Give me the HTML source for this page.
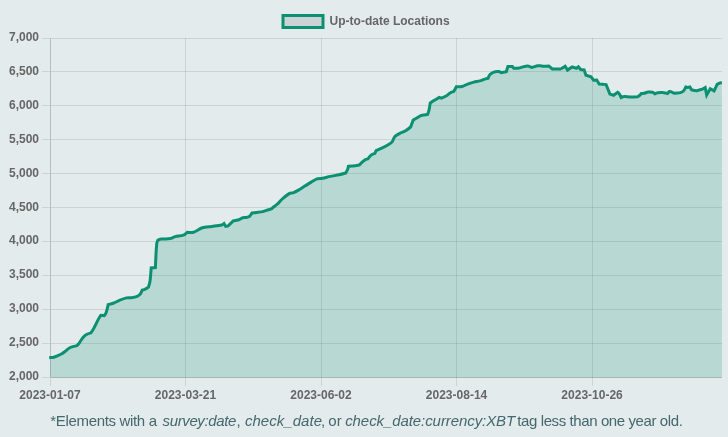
<!DOCTYPE html>
<html lang="en">
<head>
<meta charset="utf-8">
<title>Up-to-date Locations</title>
<style>
html,body{margin:0;padding:0;}
body{width:728px;height:437px;overflow:hidden;background:#e4ebec;position:relative;font-family:"Liberation Sans",Arial,Helvetica,sans-serif;}
#chart{position:absolute;left:0;top:0;width:728px;height:437px;display:block;}
#chart svg{display:block;}
#note{position:absolute;left:0;top:411.3px;width:728px;margin:0;height:20px;line-height:20px;font-size:15px;color:#44686d;white-space:nowrap;}
#note span{position:absolute;top:0;white-space:pre;}
#note i{font-style:italic;}
</style>
</head>
<body>
<div id="chart">
<svg width="728" height="437" viewBox="0 0 728 437">
<g stroke="#000" stroke-opacity="0.1" stroke-width="1" shape-rendering="crispEdges"><line x1="42" y1="38.5" x2="50.0" y2="38.5"/><line x1="51.0" y1="38.5" x2="722.0" y2="38.5"/><line x1="42" y1="71.5" x2="50.0" y2="71.5"/><line x1="51.0" y1="71.5" x2="722.0" y2="71.5"/><line x1="42" y1="105.5" x2="50.0" y2="105.5"/><line x1="51.0" y1="105.5" x2="722.0" y2="105.5"/><line x1="42" y1="139.5" x2="50.0" y2="139.5"/><line x1="51.0" y1="139.5" x2="722.0" y2="139.5"/><line x1="42" y1="173.5" x2="50.0" y2="173.5"/><line x1="51.0" y1="173.5" x2="722.0" y2="173.5"/><line x1="42" y1="207.5" x2="50.0" y2="207.5"/><line x1="51.0" y1="207.5" x2="722.0" y2="207.5"/><line x1="42" y1="241.5" x2="50.0" y2="241.5"/><line x1="51.0" y1="241.5" x2="722.0" y2="241.5"/><line x1="42" y1="275.5" x2="50.0" y2="275.5"/><line x1="51.0" y1="275.5" x2="722.0" y2="275.5"/><line x1="42" y1="309.5" x2="50.0" y2="309.5"/><line x1="51.0" y1="309.5" x2="722.0" y2="309.5"/><line x1="42" y1="343.5" x2="50.0" y2="343.5"/><line x1="51.0" y1="343.5" x2="722.0" y2="343.5"/><line x1="42" y1="377.5" x2="50.0" y2="377.5"/><line x1="51.0" y1="377.5" x2="722.0" y2="377.5"/><line x1="50.5" y1="38.0" x2="50.5" y2="386.0"/><line x1="185.5" y1="38.0" x2="185.5" y2="386.0"/><line x1="321.5" y1="38.0" x2="321.5" y2="386.0"/><line x1="456.5" y1="38.0" x2="456.5" y2="386.0"/><line x1="592.5" y1="38.0" x2="592.5" y2="386.0"/><line x1="50.5" y1="38.0" x2="50.5" y2="377.0"/><line x1="51.0" y1="377.5" x2="722.0" y2="377.5"/></g>
<path d="M50.00,357.60 C51.14,357.48 52.72,357.54 53.80,357.20 C56.14,356.46 59.20,355.11 61.40,354.00 C62.59,353.40 64.02,352.30 65.10,351.50 C66.66,350.35 68.49,348.34 70.20,347.50 C72.09,346.57 77.10,345.60 77.10,345.60 C77.10,345.60 78.49,344.11 79.00,343.40 C80.20,341.74 81.49,339.26 82.80,337.70 C83.74,336.59 85.26,335.24 86.50,334.50 C87.69,333.80 90.90,332.90 90.90,332.90 C90.90,332.90 92.81,330.15 93.50,328.90 C94.91,326.31 96.51,322.70 97.90,320.10 C98.70,318.62 100.80,315.30 100.80,315.30 C100.80,315.30 104.30,315.60 104.30,315.60 C104.30,315.60 105.83,313.44 106.20,312.40 C107.00,310.14 108.20,304.60 108.20,304.60 C108.20,304.60 112.24,303.62 113.90,303.00 C115.45,302.42 117.36,301.22 118.90,300.60 C121.14,299.69 124.17,298.44 126.50,297.90 C127.95,297.57 130.01,297.88 131.50,297.70 C133.01,297.52 135.13,297.29 136.50,296.70 C137.77,296.15 139.40,294.94 140.30,293.90 C141.11,292.96 142.20,290.10 142.20,290.10 C142.20,290.10 144.43,289.53 145.30,289.10 C146.32,288.60 148.50,287.00 148.50,287.00 C148.50,287.00 149.75,283.05 150.00,281.30 C150.56,277.32 151.20,267.90 151.20,267.90 C151.20,267.90 155.40,267.60 155.40,267.60 C155.40,267.60 156.06,250.96 156.70,243.90 C156.81,242.71 157.90,240.10 157.90,240.10 C157.90,240.10 160.32,239.23 161.40,239.10 C164.01,238.78 167.63,239.07 170.20,238.60 C171.77,238.32 173.65,237.01 175.20,236.60 C177.61,235.96 181.10,235.92 183.40,235.10 C184.70,234.63 187.20,232.30 187.20,232.30 C187.20,232.30 191.74,232.83 193.50,232.30 C196.27,231.48 199.51,228.69 202.30,227.80 C204.97,226.95 208.88,226.90 211.70,226.50 C214.73,226.06 218.87,225.71 221.80,225.00 C222.56,224.81 224.00,223.50 224.00,223.50 C224.00,223.50 225.70,226.40 225.70,226.40 C225.70,226.40 228.20,225.90 228.20,225.90 C228.20,225.90 233.20,220.90 233.20,220.90 C233.20,220.90 237.25,220.24 238.90,219.70 C240.10,219.31 241.50,218.15 242.70,217.80 C243.75,217.49 245.32,217.73 246.40,217.50 C247.39,217.28 249.60,216.30 249.60,216.30 C249.60,216.30 252.10,213.00 252.10,213.00 C252.10,213.00 255.18,212.67 256.50,212.50 C258.39,212.25 260.95,212.03 262.80,211.60 C264.55,211.19 266.78,210.25 268.50,209.70 C269.33,209.44 270.54,209.30 271.30,208.90 C272.07,208.49 272.90,207.55 273.60,207.00 C274.70,206.14 276.28,205.14 277.30,204.20 C278.71,202.89 280.26,200.78 281.70,199.50 C283.83,197.60 286.78,195.01 289.20,193.60 C290.35,192.94 292.34,193.06 293.60,192.60 C294.98,192.10 296.73,191.14 298.00,190.40 C300.24,189.10 303.11,187.18 305.30,185.80 C307.07,184.69 309.40,183.16 311.20,182.10 C312.91,181.09 315.15,179.52 317.00,178.90 C318.57,178.38 320.94,178.61 322.60,178.30 C324.90,177.86 327.90,176.89 330.20,176.40 C332.82,175.84 336.38,175.37 339.00,174.80 C341.03,174.35 345.70,173.00 345.70,173.00 C345.70,173.00 347.16,170.60 347.60,169.50 C347.97,168.59 348.40,166.30 348.40,166.30 C348.40,166.30 353.24,165.93 355.30,165.70 C356.45,165.57 359.10,165.10 359.10,165.10 C359.10,165.10 362.94,161.21 364.80,159.90 C365.58,159.35 367.90,158.90 367.90,158.90 C367.90,158.90 369.96,156.01 371.10,155.10 C372.06,154.33 374.90,153.30 374.90,153.30 C374.90,153.30 376.10,150.70 376.10,150.70 C376.10,150.70 380.13,149.03 381.80,148.20 C383.91,147.14 386.70,145.64 388.70,144.40 C389.79,143.72 391.33,142.79 392.10,141.80 C393.19,140.42 393.72,137.78 394.90,136.50 C396.06,135.23 398.33,134.13 399.90,133.30 C401.54,132.42 404.00,131.74 405.60,130.80 C407.21,129.85 410.60,127.00 410.60,127.00 C410.60,127.00 413.20,120.10 413.20,120.10 C413.20,120.10 415.35,118.74 416.30,118.20 C417.81,117.33 419.77,115.95 421.40,115.40 C423.16,114.81 427.60,114.40 427.60,114.40 C427.60,114.40 428.64,111.84 428.90,110.70 C429.42,108.45 430.20,103.10 430.20,103.10 C430.20,103.10 432.78,101.33 433.90,100.60 C435.42,99.62 439.00,97.40 439.00,97.40 C439.00,97.40 441.50,98.10 441.50,98.10 C441.50,98.10 445.09,96.64 446.50,95.80 C447.55,95.17 448.65,93.83 449.70,93.20 C450.87,92.51 453.90,91.40 453.90,91.40 C453.90,91.40 456.30,86.80 456.30,86.80 C456.30,86.80 460.36,86.88 462.00,86.50 C463.57,86.13 465.47,84.87 467.00,84.30 C469.04,83.55 471.80,82.65 473.90,82.10 C475.70,81.63 478.21,81.40 480.00,80.90 C481.24,80.56 482.78,79.71 484.00,79.30 C485.21,78.90 488.10,78.20 488.10,78.20 C488.10,78.20 489.03,75.51 489.80,74.70 C490.77,73.68 492.57,72.58 493.90,72.10 C495.15,71.65 497.08,71.49 498.40,71.60 C499.30,71.67 501.30,72.70 501.30,72.70 C501.30,72.70 506.30,71.60 506.30,71.60 C506.30,71.60 507.90,66.50 507.90,66.50 C507.90,66.50 512.40,66.50 512.40,66.50 C512.40,66.50 513.80,68.30 513.80,68.30 C513.80,68.30 517.54,68.34 519.10,68.10 C520.27,67.92 521.74,67.17 522.90,66.90 C524.35,66.57 526.36,66.00 527.80,66.10 C528.94,66.18 531.50,67.50 531.50,67.50 C531.50,67.50 532.97,67.07 533.60,66.90 C534.83,66.56 536.45,66.01 537.70,65.80 C538.37,65.68 539.31,65.74 540.00,65.80 C541.14,65.89 542.66,66.27 543.80,66.30 C545.30,66.33 548.80,66.00 548.80,66.00 C548.80,66.00 552.60,69.10 552.60,69.10 C552.60,69.10 555.68,68.93 557.00,68.90 C558.14,68.87 559.75,69.23 560.80,68.90 C562.21,68.45 565.20,66.30 565.20,66.30 C565.20,66.30 567.50,70.10 567.50,70.10 C567.50,70.10 572.10,67.00 572.10,67.00 C572.10,67.00 576.50,68.30 576.50,68.30 C576.50,68.30 578.40,66.90 578.40,66.90 C578.40,66.90 580.60,69.50 580.60,69.50 C580.60,69.50 584.10,69.90 584.10,69.90 C584.10,69.90 586.00,75.20 586.00,75.20 C586.00,75.20 591.00,76.70 591.00,76.70 C591.00,76.70 593.50,80.20 593.50,80.20 C593.50,80.20 596.70,80.00 596.70,80.00 C596.70,80.00 599.20,84.00 599.20,84.00 C599.20,84.00 606.10,84.60 606.10,84.60 C606.10,84.60 609.90,94.10 609.90,94.10 C609.90,94.10 613.70,95.30 613.70,95.30 C613.70,95.30 617.60,92.30 617.60,92.30 C617.60,92.30 618.93,93.25 619.30,93.80 C619.98,94.81 621.10,97.50 621.10,97.50 C621.10,97.50 623.39,96.55 624.40,96.50 C626.09,96.43 628.39,97.06 630.10,97.10 C632.38,97.15 637.70,96.80 637.70,96.80 C637.70,96.80 639.39,95.76 640.00,95.20 C640.44,94.80 641.20,93.60 641.20,93.60 C641.20,93.60 643.25,93.48 644.10,93.30 C645.35,93.03 646.95,92.25 648.20,92.10 C649.44,91.95 651.22,92.00 652.40,92.30 C653.20,92.51 654.80,93.80 654.80,93.80 C654.80,93.80 656.79,92.86 657.70,92.70 C659.04,92.47 660.93,92.45 662.30,92.50 C663.30,92.54 664.62,92.81 665.60,93.00 C666.21,93.11 667.60,93.50 667.60,93.50 C667.60,93.50 669.30,91.50 669.30,91.50 C669.30,91.50 670.45,91.54 670.90,91.70 C671.68,91.99 672.60,92.82 673.40,93.00 C674.46,93.24 675.99,93.15 677.10,93.10 C678.09,93.06 679.48,93.03 680.40,92.70 C681.46,92.31 682.93,91.51 683.70,90.70 C684.55,89.80 685.80,87.00 685.80,87.00 C685.80,87.00 687.20,87.40 687.80,87.40 C688.43,87.40 689.90,87.00 689.90,87.00 C689.90,87.00 691.50,89.80 691.50,89.80 C691.50,89.80 693.52,90.34 694.40,90.50 C695.14,90.64 696.17,90.89 696.90,90.80 C697.85,90.68 699.06,90.07 700.00,89.80 C700.71,89.59 701.72,89.49 702.40,89.20 C703.28,88.83 705.20,87.60 705.20,87.60 C705.20,87.60 706.70,94.90 706.70,94.90 C706.70,94.90 710.20,88.70 710.20,88.70 C710.20,88.70 714.10,90.90 714.10,90.90 C714.10,90.90 717.20,84.40 717.20,84.40 C717.20,84.40 719.26,83.20 720.20,82.90 C720.67,82.75 721.39,82.90 721.90,82.90 L721.9,377.5 L50.0,377.5 Z" fill="rgba(11,144,114,0.2)" stroke="none"/>
<path d="M49.20,357.65 C49.44,357.64 49.76,357.62 50.00,357.60 C51.14,357.49 52.72,357.54 53.80,357.20 C56.14,356.46 59.20,355.11 61.40,354.00 C62.59,353.40 64.02,352.30 65.10,351.50 C66.66,350.35 68.49,348.34 70.20,347.50 C72.09,346.57 77.10,345.60 77.10,345.60 C77.10,345.60 78.49,344.11 79.00,343.40 C80.20,341.74 81.49,339.26 82.80,337.70 C83.74,336.59 85.26,335.24 86.50,334.50 C87.69,333.80 90.90,332.90 90.90,332.90 C90.90,332.90 92.81,330.15 93.50,328.90 C94.91,326.31 96.51,322.70 97.90,320.10 C98.70,318.62 100.80,315.30 100.80,315.30 C100.80,315.30 104.30,315.60 104.30,315.60 C104.30,315.60 105.83,313.44 106.20,312.40 C107.00,310.14 108.20,304.60 108.20,304.60 C108.20,304.60 112.24,303.62 113.90,303.00 C115.45,302.42 117.36,301.22 118.90,300.60 C121.14,299.69 124.17,298.44 126.50,297.90 C127.95,297.57 130.01,297.88 131.50,297.70 C133.01,297.52 135.13,297.29 136.50,296.70 C137.77,296.15 139.40,294.94 140.30,293.90 C141.11,292.96 142.20,290.10 142.20,290.10 C142.20,290.10 144.43,289.53 145.30,289.10 C146.32,288.60 148.50,287.00 148.50,287.00 C148.50,287.00 149.75,283.05 150.00,281.30 C150.56,277.32 151.20,267.90 151.20,267.90 C151.20,267.90 155.40,267.60 155.40,267.60 C155.40,267.60 156.06,250.96 156.70,243.90 C156.81,242.71 157.90,240.10 157.90,240.10 C157.90,240.10 160.32,239.23 161.40,239.10 C164.01,238.78 167.63,239.07 170.20,238.60 C171.77,238.32 173.65,237.01 175.20,236.60 C177.61,235.96 181.10,235.92 183.40,235.10 C184.70,234.63 187.20,232.30 187.20,232.30 C187.20,232.30 191.74,232.83 193.50,232.30 C196.27,231.48 199.51,228.69 202.30,227.80 C204.97,226.95 208.88,226.90 211.70,226.50 C214.73,226.06 218.87,225.71 221.80,225.00 C222.56,224.81 224.00,223.50 224.00,223.50 C224.00,223.50 225.70,226.40 225.70,226.40 C225.70,226.40 228.20,225.90 228.20,225.90 C228.20,225.90 233.20,220.90 233.20,220.90 C233.20,220.90 237.25,220.24 238.90,219.70 C240.10,219.31 241.50,218.15 242.70,217.80 C243.75,217.49 245.32,217.73 246.40,217.50 C247.39,217.28 249.60,216.30 249.60,216.30 C249.60,216.30 252.10,213.00 252.10,213.00 C252.10,213.00 255.18,212.67 256.50,212.50 C258.39,212.25 260.95,212.03 262.80,211.60 C264.55,211.19 266.78,210.25 268.50,209.70 C269.33,209.44 270.54,209.30 271.30,208.90 C272.07,208.49 272.90,207.55 273.60,207.00 C274.70,206.14 276.28,205.14 277.30,204.20 C278.71,202.89 280.26,200.78 281.70,199.50 C283.83,197.60 286.78,195.01 289.20,193.60 C290.35,192.94 292.34,193.06 293.60,192.60 C294.98,192.10 296.73,191.14 298.00,190.40 C300.24,189.10 303.11,187.18 305.30,185.80 C307.07,184.69 309.40,183.16 311.20,182.10 C312.91,181.09 315.15,179.52 317.00,178.90 C318.57,178.38 320.94,178.61 322.60,178.30 C324.90,177.86 327.90,176.89 330.20,176.40 C332.82,175.84 336.38,175.37 339.00,174.80 C341.03,174.35 345.70,173.00 345.70,173.00 C345.70,173.00 347.16,170.60 347.60,169.50 C347.97,168.59 348.40,166.30 348.40,166.30 C348.40,166.30 353.24,165.93 355.30,165.70 C356.45,165.57 359.10,165.10 359.10,165.10 C359.10,165.10 362.94,161.21 364.80,159.90 C365.58,159.35 367.90,158.90 367.90,158.90 C367.90,158.90 369.96,156.01 371.10,155.10 C372.06,154.33 374.90,153.30 374.90,153.30 C374.90,153.30 376.10,150.70 376.10,150.70 C376.10,150.70 380.13,149.03 381.80,148.20 C383.91,147.14 386.70,145.64 388.70,144.40 C389.79,143.72 391.33,142.79 392.10,141.80 C393.19,140.42 393.72,137.78 394.90,136.50 C396.06,135.23 398.33,134.13 399.90,133.30 C401.54,132.42 404.00,131.74 405.60,130.80 C407.21,129.85 410.60,127.00 410.60,127.00 C410.60,127.00 413.20,120.10 413.20,120.10 C413.20,120.10 415.35,118.74 416.30,118.20 C417.81,117.33 419.77,115.95 421.40,115.40 C423.16,114.81 427.60,114.40 427.60,114.40 C427.60,114.40 428.64,111.84 428.90,110.70 C429.42,108.45 430.20,103.10 430.20,103.10 C430.20,103.10 432.78,101.33 433.90,100.60 C435.42,99.62 439.00,97.40 439.00,97.40 C439.00,97.40 441.50,98.10 441.50,98.10 C441.50,98.10 445.09,96.64 446.50,95.80 C447.55,95.17 448.65,93.83 449.70,93.20 C450.87,92.51 453.90,91.40 453.90,91.40 C453.90,91.40 456.30,86.80 456.30,86.80 C456.30,86.80 460.36,86.88 462.00,86.50 C463.57,86.13 465.47,84.87 467.00,84.30 C469.04,83.55 471.80,82.65 473.90,82.10 C475.70,81.63 478.21,81.40 480.00,80.90 C481.24,80.56 482.78,79.71 484.00,79.30 C485.21,78.90 488.10,78.20 488.10,78.20 C488.10,78.20 489.03,75.51 489.80,74.70 C490.77,73.68 492.57,72.58 493.90,72.10 C495.15,71.65 497.08,71.49 498.40,71.60 C499.30,71.67 501.30,72.70 501.30,72.70 C501.30,72.70 506.30,71.60 506.30,71.60 C506.30,71.60 507.90,66.50 507.90,66.50 C507.90,66.50 512.40,66.50 512.40,66.50 C512.40,66.50 513.80,68.30 513.80,68.30 C513.80,68.30 517.54,68.34 519.10,68.10 C520.27,67.92 521.74,67.17 522.90,66.90 C524.35,66.57 526.36,66.00 527.80,66.10 C528.94,66.18 531.50,67.50 531.50,67.50 C531.50,67.50 532.97,67.07 533.60,66.90 C534.83,66.56 536.45,66.01 537.70,65.80 C538.37,65.68 539.31,65.74 540.00,65.80 C541.14,65.89 542.66,66.27 543.80,66.30 C545.30,66.33 548.80,66.00 548.80,66.00 C548.80,66.00 552.60,69.10 552.60,69.10 C552.60,69.10 555.68,68.93 557.00,68.90 C558.14,68.87 559.75,69.23 560.80,68.90 C562.21,68.45 565.20,66.30 565.20,66.30 C565.20,66.30 567.50,70.10 567.50,70.10 C567.50,70.10 572.10,67.00 572.10,67.00 C572.10,67.00 576.50,68.30 576.50,68.30 C576.50,68.30 578.40,66.90 578.40,66.90 C578.40,66.90 580.60,69.50 580.60,69.50 C580.60,69.50 584.10,69.90 584.10,69.90 C584.10,69.90 586.00,75.20 586.00,75.20 C586.00,75.20 591.00,76.70 591.00,76.70 C591.00,76.70 593.50,80.20 593.50,80.20 C593.50,80.20 596.70,80.00 596.70,80.00 C596.70,80.00 599.20,84.00 599.20,84.00 C599.20,84.00 606.10,84.60 606.10,84.60 C606.10,84.60 609.90,94.10 609.90,94.10 C609.90,94.10 613.70,95.30 613.70,95.30 C613.70,95.30 617.60,92.30 617.60,92.30 C617.60,92.30 618.93,93.25 619.30,93.80 C619.98,94.81 621.10,97.50 621.10,97.50 C621.10,97.50 623.39,96.55 624.40,96.50 C626.09,96.43 628.39,97.06 630.10,97.10 C632.38,97.15 637.70,96.80 637.70,96.80 C637.70,96.80 639.39,95.76 640.00,95.20 C640.44,94.80 641.20,93.60 641.20,93.60 C641.20,93.60 643.25,93.48 644.10,93.30 C645.35,93.03 646.95,92.25 648.20,92.10 C649.44,91.95 651.22,92.00 652.40,92.30 C653.20,92.51 654.80,93.80 654.80,93.80 C654.80,93.80 656.79,92.86 657.70,92.70 C659.04,92.47 660.93,92.45 662.30,92.50 C663.30,92.54 664.62,92.81 665.60,93.00 C666.21,93.11 667.60,93.50 667.60,93.50 C667.60,93.50 669.30,91.50 669.30,91.50 C669.30,91.50 670.45,91.54 670.90,91.70 C671.68,91.99 672.60,92.82 673.40,93.00 C674.46,93.24 675.99,93.15 677.10,93.10 C678.09,93.06 679.48,93.03 680.40,92.70 C681.46,92.31 682.93,91.51 683.70,90.70 C684.55,89.80 685.80,87.00 685.80,87.00 C685.80,87.00 687.20,87.40 687.80,87.40 C688.43,87.40 689.90,87.00 689.90,87.00 C689.90,87.00 691.50,89.80 691.50,89.80 C691.50,89.80 693.52,90.34 694.40,90.50 C695.14,90.64 696.17,90.89 696.90,90.80 C697.85,90.68 699.06,90.07 700.00,89.80 C700.71,89.59 701.72,89.49 702.40,89.20 C703.28,88.83 705.20,87.60 705.20,87.60 C705.20,87.60 706.70,94.90 706.70,94.90 C706.70,94.90 710.20,88.70 710.20,88.70 C710.20,88.70 714.10,90.90 714.10,90.90 C714.10,90.90 717.20,84.40 717.20,84.40 C717.20,84.40 719.26,83.20 720.20,82.90 C720.67,82.75 721.39,82.90 721.90,82.90" fill="none" stroke="#0b9072" stroke-width="3" stroke-linejoin="miter" stroke-miterlimit="10" stroke-linecap="butt"/>
<rect x="283" y="15.5" width="40" height="12" fill="rgba(0,0,0,0.1)" stroke="#0b9072" stroke-width="3"/>
<g font-family="'Liberation Sans', Arial, Helvetica, sans-serif" font-size="12" font-weight="bold" fill="#666">
<text x="329.6" y="24.6">Up-to-date Locations</text>
<text x="39" y="41.0" text-anchor="end">7,000</text>
<text x="39" y="74.9" text-anchor="end">6,500</text>
<text x="39" y="108.8" text-anchor="end">6,000</text>
<text x="39" y="142.7" text-anchor="end">5,500</text>
<text x="39" y="176.6" text-anchor="end">5,000</text>
<text x="39" y="210.5" text-anchor="end">4,500</text>
<text x="39" y="244.4" text-anchor="end">4,000</text>
<text x="39" y="278.3" text-anchor="end">3,500</text>
<text x="39" y="312.2" text-anchor="end">3,000</text>
<text x="39" y="346.1" text-anchor="end">2,500</text>
<text x="39" y="380.0" text-anchor="end">2,000</text>
<text x="50.00" y="399.1" text-anchor="middle">2023-01-07</text>
<text x="185.51" y="399.1" text-anchor="middle">2023-03-21</text>
<text x="321.03" y="399.1" text-anchor="middle">2023-06-02</text>
<text x="456.54" y="399.1" text-anchor="middle">2023-08-14</text>
<text x="592.06" y="399.1" text-anchor="middle">2023-10-26</text>
</g>
</svg>
</div>
<p id="note"><span id="n1" style="left:50.3px;letter-spacing:-0.335px;">*Elements with a </span><span id="n2" style="left:162.6px;letter-spacing:-0.385px;"><i>survey:date</i></span><span id="n3" style="left:236.4px;letter-spacing:0px;">, </span><span id="n4" style="left:244.9px;letter-spacing:0.041px;"><i>check_date</i></span><span id="n5" style="left:321.0px;letter-spacing:0px;word-spacing:-1px;">, or </span><span id="n6" style="left:345.2px;letter-spacing:-0.08px;"><i>check_date:currency:XBT</i> </span><span id="n7" style="left:517.3px;letter-spacing:-0.402px;">tag less than one year old.</span></p>
</body>
</html>
